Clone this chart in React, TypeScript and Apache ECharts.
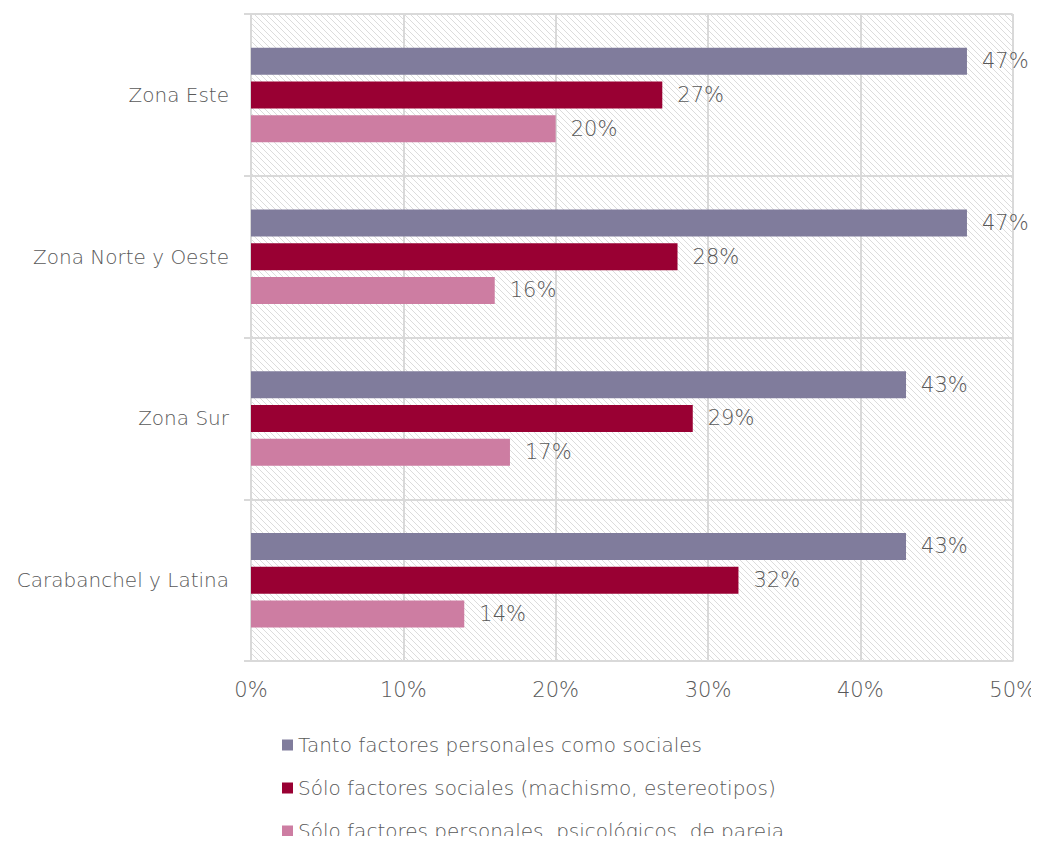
import React, { useEffect, useRef } from "react";
import * as echarts from "echarts";

const categories = ["Zona Este", "Zona Norte y Oeste", "Zona Sur", "Carabanchel y Latina"];
const seriesNames = [
  "Tanto factores personales como sociales",
  "Sólo factores sociales (machismo, estereotipos)",
  "Sólo factores personales, psicológicos, de pareja",
];
const tantoValues = [47, 47, 43, 43];
const socialesValues = [27, 28, 29, 32];
const personalesValues = [20, 16, 17, 14];
const seriesColors = ["#807C9C", "#990033", "#CD7DA2"];

const FONT = "'DejaVu Sans ExtraLight', 'DejaVu Sans'";
const WEIGHT = 200;
const TEXT = "#595959";
const GRID = "#D9D9D9";

function makeHatch() {
  const c = document.createElement("canvas");
  c.width = 6;
  c.height = 6;
  const ctx = c.getContext("2d")!;
  ctx.fillStyle = "#ffffff";
  ctx.fillRect(0, 0, 6, 6);
  ctx.strokeStyle = "#dcdcdc";
  ctx.lineWidth = 1;
  ctx.beginPath();
  ctx.moveTo(-1, -1);
  ctx.lineTo(7, 7);
  ctx.moveTo(-1, 5);
  ctx.lineTo(1, 7);
  ctx.moveTo(5, -1);
  ctx.lineTo(7, 1);
  ctx.stroke();
  return c;
}

export default function App() {
  const ref = useRef<HTMLDivElement>(null);
  useEffect(() => {
    if (!ref.current) return;
    const chart = echarts.init(ref.current, undefined, { renderer: "svg" });
    const hatch = makeHatch();
    const data = [tantoValues, socialesValues, personalesValues];
    chart.setOption({
      animation: false,
      textStyle: { fontFamily: FONT, color: TEXT, fontWeight: WEIGHT },
      grid: {
        left: 251,
        right: 26,
        top: 14,
        bottom: 183,
        show: true,
        borderWidth: 0,
        backgroundColor: { image: hatch, repeat: "repeat", imageWidth: 6, imageHeight: 6 } as any,
      },
      legend: {
        orient: "vertical",
        left: 277,
        top: 730,
        height: 130,
        itemWidth: 11,
        itemHeight: 11,
        itemGap: 23,
        itemTextGap: 7,
        icon: "rect",
        textStyle: { fontFamily: FONT, fontSize: 20, color: TEXT, fontWeight: WEIGHT },
        data: seriesNames,
      },
      xAxis: {
        type: "value",
        min: 0,
        max: 50,
        interval: 10,
        axisLine: { show: true, lineStyle: { color: GRID, width: 2 } },
        axisTick: { show: false },
        axisLabel: {
          formatter: "{value}%",
          fontSize: 21,
          color: TEXT,
          fontFamily: FONT,
          fontWeight: WEIGHT,
          margin: 18,
        },
        splitLine: { show: true, lineStyle: { color: GRID, width: 2 } },
      },
      yAxis: {
        type: "category",
        inverse: true,
        data: categories,
        axisLine: { show: true, lineStyle: { color: GRID, width: 2 } },
        axisTick: { show: true, length: 7, lineStyle: { color: GRID, width: 2 } },
        axisLabel: { fontSize: 20, color: TEXT, fontFamily: FONT, fontWeight: WEIGHT, margin: 22 },
        splitLine: { show: true, lineStyle: { color: GRID, width: 2 } },
      },
      series: seriesNames.map((name, i) => ({
        name,
        type: "bar",
        data: data[i],
        barWidth: 27,
        barGap: "25%",
        itemStyle: { color: seriesColors[i] },
        label: {
          show: true,
          position: "right",
          distance: 15,
          formatter: "{c}%",
          fontSize: 21,
          color: TEXT,
          fontFamily: FONT,
          fontWeight: WEIGHT,
        },
      })),
    });
    return () => chart.dispose();
  }, []);
  return <div ref={ref} style={{ width: 1039, height: 844, margin: -8 }} />;
}
